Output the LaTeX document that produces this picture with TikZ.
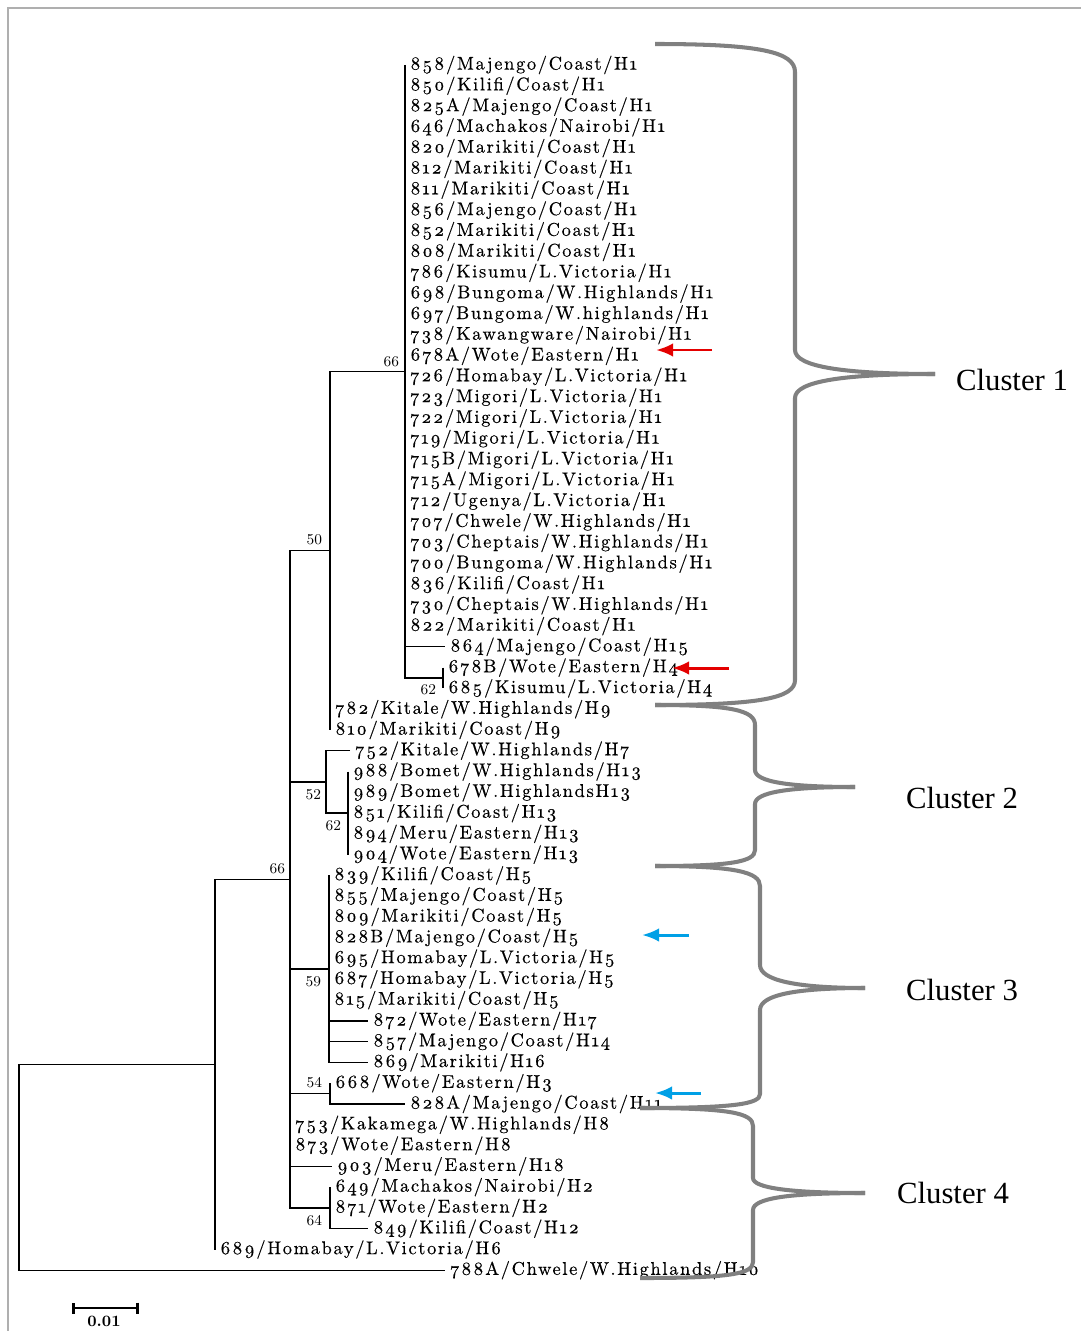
\documentclass[tikz,border=0pt]{standalone}
\usepackage{fontspec}
\usepackage{tikz}
\usetikzlibrary{arrows.meta,positioning,calc}
\newfontfamily\leaffont{lmroman10-regular.otf}[LetterSpace=9,Numbers=OldStyle,FakeBold=0.4]
\newfontfamily\clusterfont{Liberation Serif}
\definecolor{bracegray}{RGB}{128,128,128}
\definecolor{framegray}{RGB}{175,175,175}
\definecolor{markred}{RGB}{228,0,0}
\definecolor{markblue}{RGB}{0,160,230}
\tikzset{
    leaf/.style={anchor=west, inner xsep=3pt, inner ysep=0pt, outer sep=0pt, font=\leaffont\fontsize{10.5}{12}\selectfont},
    boot/.style={inner sep=0pt, outer sep=0pt, font=\fontsize{8.5}{9}\selectfont},
    branch/.style={draw, line width=0.7pt},
    brace/.style={draw=bracegray, line width=2.3pt},
    clusterlabel/.style={font=\clusterfont\fontsize{17.5}{20}\selectfont},
    redarrow/.style={draw=markred, line width=1.7pt, -{Latex[length=0.34cm,width=0.27cm]}},
    bluearrow/.style={redarrow, draw=markblue},
    scalebar/.style={draw, line width=1.6pt, {Bar[width=0.22cm]}-{Bar[width=0.22cm]}}
}

\begin{document}
\begin{tikzpicture}[x=0.02cm, y=-0.02cm]
    \useasboundingbox (0,0) rectangle (1081,1331);
    % Frame
    \draw[framegray, line width=1.7pt] (8,1331) -- (8,8) -- (1081,8);

    % Cluster 1 leaves
    \node[leaf] (l858) at (405,65.0) {858/Majengo/Coast/H1};
    \node[leaf] (l850) at (405,85.8) {850/Kilifi/Coast/H1};
    \node[leaf] (l825A) at (405,106.6) {825A/Majengo/Coast/H1};
    \node[leaf] (l646) at (405,127.3) {646/Machakos/Nairobi/H1};
    \node[leaf] (l820) at (405,148.1) {820/Marikiti/Coast/H1};
    \node[leaf] (l812) at (405,168.9) {812/Marikiti/Coast/H1};
    \node[leaf] (l811) at (405,189.7) {811/Marikiti/Coast/H1};
    \node[leaf] (l856) at (405,210.5) {856/Majengo/Coast/H1};
    \node[leaf] (l852) at (405,231.2) {852/Marikiti/Coast/H1};
    \node[leaf] (l808) at (405,252.0) {808/Marikiti/Coast/H1};
    \node[leaf] (l786) at (405,272.8) {786/Kisumu/L.Victoria/H1};
    \node[leaf] (l698) at (405,293.6) {698/Bungoma/W.Highlands/H1};
    \node[leaf] (l697) at (405,314.4) {697/Bungoma/W.highlands/H1};
    \node[leaf] (l738) at (405,335.1) {738/Kawangware/Nairobi/H1};
    \node[leaf] (l678A) at (405,355.9) {678A/Wote/Eastern/H1};
    \node[leaf] (l726) at (405,376.7) {726/Homabay/L.Victoria/H1};
    \node[leaf] (l723) at (405,397.5) {723/Migori/L.Victoria/H1};
    \node[leaf] (l722) at (405,418.3) {722/Migori/L.Victoria/H1};
    \node[leaf] (l719) at (405,439.0) {719/Migori/L.Victoria/H1};
    \node[leaf] (l715B) at (405,459.8) {715B/Migori/L.Victoria/H1};
    \node[leaf] (l715A) at (405,480.6) {715A/Migori/L.Victoria/H1};
    \node[leaf] (l712) at (405,501.4) {712/Ugenya/L.Victoria/H1};
    \node[leaf] (l707) at (405,522.2) {707/Chwele/W.Highlands/H1};
    \node[leaf] (l703) at (405,542.9) {703/Cheptais/W.Highlands/H1};
    \node[leaf] (l700) at (405,563.7) {700/Bungoma/W.Highlands/H1};
    \node[leaf] (l836) at (405,584.5) {836/Kilifi/Coast/H1};
    \node[leaf] (l730) at (405,605.3) {730/Cheptais/W.Highlands/H1};
    \node[leaf] (l822) at (405,626.1) {822/Marikiti/Coast/H1};
    \node[leaf] (l864) at (445,646.8) {864/Majengo/Coast/H15};
    \node[leaf] (l678B) at (443,667.6) {678B/Wote/Eastern/H4};
    \node[leaf] (l685) at (443,688.4) {685/Kisumu/L.Victoria/H4};
    \node[leaf] (l782) at (330,709.2) {782/Kitale/W.Highlands/H9};
    \node[leaf] (l810) at (330,730.0) {810/Marikiti/Coast/H9};

    % Cluster 2 leaves
    \node[leaf] (l752) at (350,750.7) {752/Kitale/W.Highlands/H7};
    \node[leaf] (l988) at (348,771.5) {988/Bomet/W.Highlands/H13};
    \node[leaf] (l989) at (348,792.3) {989/Bomet/W.HighlandsH13};
    \node[leaf] (l851) at (348,813.1) {851/Kilifi/Coast/H13};
    \node[leaf] (l894) at (348,833.9) {894/Meru/Eastern/H13};
    \node[leaf] (l904) at (348,854.6) {904/Wote/Eastern/H13};

    % Cluster 3 leaves
    \node[leaf] (l839) at (329,875.4) {839/Kilifi/Coast/H5};
    \node[leaf] (l855) at (329,896.2) {855/Majengo/Coast/H5};
    \node[leaf] (l809) at (329,917.0) {809/Marikiti/Coast/H5};
    \node[leaf] (l828B) at (329,937.8) {828B/Majengo/Coast/H5};
    \node[leaf] (l695) at (329,958.5) {695/Homabay/L.Victoria/H5};
    \node[leaf] (l687) at (329,979.3) {687/Homabay/L.Victoria/H5};
    \node[leaf] (l815) at (329,1000.1) {815/Marikiti/Coast/H5};
    \node[leaf] (l872) at (368,1020.9) {872/Wote/Eastern/H17};
    \node[leaf] (l857) at (368,1041.7) {857/Majengo/Coast/H14};
    \node[leaf] (l869) at (368,1062.4) {869/Marikiti/H16};
    \node[leaf] (l668) at (330,1083.2) {668/Wote/Eastern/H3};
    \node[leaf] (l828A) at (405,1104.0) {828A/Majengo/Coast/H11};

    % Cluster 4 leaves
    \node[leaf] (l753) at (290,1124.8) {753/Kakamega/W.Highlands/H8};
    \node[leaf] (l873) at (290,1145.6) {873/Wote/Eastern/H8};
    \node[leaf] (l903) at (332,1166.3) {903/Meru/Eastern/H18};
    \node[leaf] (l649) at (330,1187.1) {649/Machakos/Nairobi/H2};
    \node[leaf] (l871) at (330,1207.9) {871/Wote/Eastern/H2};
    \node[leaf] (l849) at (368,1228.7) {849/Kilifi/Coast/H12};
    \node[leaf] (l689) at (215,1249.5) {689/Homabay/L.Victoria/H6};
    \node[leaf] (l788A) at (445,1270.2) {788A/Chwele/W.Highlands/H10};

    % Internal nodes
    \coordinate (n62a) at (443,678.0);
    \coordinate (n66a) at (405,371.5);
    \coordinate (n50) at (330,550.8);
    \coordinate (n62b) at (348,813.1);
    \coordinate (n52) at (326,781.9);
    \coordinate (n59) at (329,968.9);
    \coordinate (n54) at (330,1093.6);
    \coordinate (n64) at (330,1207.9);
    \coordinate (n66b) at (290,879.3);
    \coordinate (nout) at (215,1064.4);
    \coordinate (nroot) at (19,1167.3);

    % Branches
    \draw[branch] (l678B.west) -| (n62a) |- (l685.west);
    \draw[branch] (l858.west) -| (n66a) |- (n62a);
    \draw[branch] (n66a |- l864.west) -- (l864.west);
    \draw[branch] (n66a) -| (n50) |- (l810.west);
    \draw[branch] (l988.west) -| (n62b) |- (l904.west);
    \draw[branch] (l752.west) -| (n52) |- (n62b);
    \draw[branch] (l839.west) -| (n59) |- (l869.west);
    \draw[branch] (n59 |- l872.west) -- (l872.west);
    \draw[branch] (n59 |- l857.west) -- (l857.west);
    \draw[branch] (l668.west) -| (n54) |- (l828A.west);
    \draw[branch] (l649.west) -| (n64) |- (l849.west);
    \draw[branch] (n50) -| (n66b) |- (n64);
    \draw[branch] (n66b |- n52) -- (n52);
    \draw[branch] (n66b |- n59) -- (n59);
    \draw[branch] (n66b |- n54) -- (n54);
    \draw[branch] (n66b |- l903.west) -- (l903.west);
    \draw[branch] (n66b) -| (nout) |- (l689.west);
    \draw[branch] (nout) -| (nroot) |- (l788A.west);

    % Bootstrap values
    \node[boot, anchor=south east] (b66a) at ([shift={(-6,-5)}]n66a) {66};
    \node[boot, anchor=north east] (b62a) at ([shift={(-7,7)}]n62a) {62};
    \node[boot, anchor=south east] (b50) at ([shift={(-8,-6)}]n50) {50};
    \node[boot, anchor=north east] (b52) at ([shift={(-5,8)}]n52) {52};
    \node[boot, anchor=north east] (b62b) at ([shift={(-7,7)}]n62b) {62};
    \node[boot, anchor=north east] (b59) at ([shift={(-8,8)}]n59) {59};
    \node[boot, anchor=south east] (b54) at ([shift={(-8,-6)}]n54) {54};
    \node[boot, anchor=north east] (b64) at ([shift={(-8,7)}]n64) {64};
    \node[boot, anchor=south east] (b66b) at ([shift={(-5,-5)}]n66b) {66};

    % Cluster braces
    \coordinate (c1tip) at (935,374);
    \coordinate (c2tip) at (855,787);
    \coordinate (c3tip) at (865,988);
    \coordinate (c4tip) at (865,1193);
    \draw[brace] (655,44) .. controls (760,44) and (795,52) .. (795,72) -- (795,350) .. controls (795,367) and (845,374) .. (c1tip);
    \draw[brace] (c1tip) .. controls (845,374) and (795,381) .. (795,398) -- (795,680) .. controls (795,698) and (760,705) .. (655,705);
    \draw[brace] (655,705) .. controls (730,705) and (755,710) .. (755,725) -- (755,770) .. controls (755,782) and (790,787) .. (c2tip);
    \draw[brace] (c2tip) .. controls (790,787) and (755,792) .. (755,804) -- (755,850) .. controls (755,862) and (730,866) .. (655,866);
    \draw[brace] (655,866) .. controls (735,866) and (760,872) .. (760,886) -- (760,965) .. controls (760,980) and (795,988) .. (c3tip);
    \draw[brace] (c3tip) .. controls (795,988) and (760,995) .. (760,1010) -- (760,1094) .. controls (760,1104) and (735,1108) .. (640,1108);
    \draw[brace] (640,1108) .. controls (730,1108) and (753,1113) .. (753,1126) -- (753,1178) .. controls (753,1188) and (790,1193) .. (c4tip);
    \draw[brace] (c4tip) .. controls (790,1193) and (753,1198) .. (753,1210) -- (753,1262) .. controls (753,1274) and (730,1278) .. (640,1278);
    \node[clusterlabel] (c1) at (1012,380) {Cluster 1};
    \node[clusterlabel] (c2) at (962,798) {Cluster 2};
    \node[clusterlabel] (c3) at (962,990) {Cluster 3};
    \node[clusterlabel] (c4) at (953,1193) {Cluster 4};

    % Marker arrows
    \coordinate (ra1) at (712,350);
    \coordinate (ra1tip) at (656,350);
    \coordinate (ra2) at (729,668);
    \coordinate (ra2tip) at (672,668);
    \coordinate (ba1) at (689,935);
    \coordinate (ba1tip) at (642,935);
    \coordinate (ba2) at (701,1093);
    \coordinate (ba2tip) at (655,1093);
    \draw[redarrow] (ra1) -- (ra1tip);
    \draw[redarrow] (ra2) -- (ra2tip);
    \draw[bluearrow] (ba1) -- (ba1tip);
    \draw[bluearrow] (ba2) -- (ba2tip);

    % Scale bar
    \coordinate (sbl) at (72,1308);
    \coordinate (sbr) at (139,1308);
    \draw[scalebar] (sbl) -- (sbr);
    \node[boot, font=\bfseries\fontsize{9}{10}\selectfont] (sblab) at (104,1321) {0.01};
\end{tikzpicture}
\end{document}
